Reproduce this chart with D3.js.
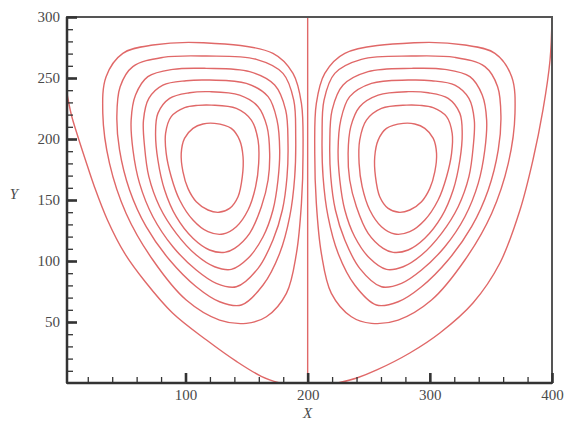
<!DOCTYPE html>
<html>
<head>
<meta charset="utf-8">
<script src="https://cdn.jsdelivr.net/npm/d3@7/dist/d3.min.js"></script>
<style>
  body { margin: 0; background: #fff; }
  .tick text { font-family: "Liberation Serif", "Times New Roman", serif; font-size: 15px; fill: #4a4a4a; }
</style>
</head>
<body>
<script>
// tick labels
const xMajor = [100, 200, 300, 400];
const yMajor = [50, 100, 150, 200, 250, 300];
const xMinor = d3.range(20, 400, 20);
const yMinor = d3.range(10, 300, 10);

// closed streamlines, left vortex (inner -> outer)
const leftLoops = [
  [[123.8,212.8],[137.5,208.7],[144.3,199.1],[147.1,185.5],[146.5,169.1],[143.0,152.7],[136.1,143.1],[127.4,139.9],[118.4,141.8],[108.8,148.6],[102.0,159.5],[97.9,173.2],[96.5,188.2],[99.2,200.5],[106.1,208.7],[114.3,212.3]],
  [[121.1,227.8],[141.6,225.1],[153.9,215.5],[159.4,199.1],[159.9,180.0],[157.4,160.9],[151.2,141.8],[141.6,128.1],[130.7,122.1],[118.4,124.0],[106.1,133.6],[95.2,150.0],[88.3,169.1],[84.2,188.2],[83.7,204.6],[88.3,218.3],[99.3,225.7],[110.2,227.6]],
  [[119.7,238.8],[144.3,236.0],[159.4,226.5],[166.7,210.1],[168.9,188.2],[167.6,166.4],[162.1,144.5],[152.5,122.7],[140.2,110.4],[132.0,107.1],[119.7,109.0],[106.1,118.6],[92.4,136.3],[82.9,158.2],[77.4,182.8],[75.5,204.6],[77.4,221.0],[87.0,233.3],[103.3,237.9]],
  [[119.7,248.3],[149.8,245.6],[167.6,234.7],[174.9,215.5],[177.1,191.0],[175.7,166.4],[171.6,141.8],[163.5,119.9],[151.2,102.2],[137.5,93.1],[123.8,95.3],[108.8,104.9],[92.4,122.7],[78.8,144.5],[70.0,169.1],[66.5,193.7],[65.6,215.5],[70.0,233.3],[81.5,244.2],[100.6,247.8]],
  [[117.0,257.9],[152.5,255.2],[173.0,244.2],[182.0,223.7],[183.9,196.4],[183.1,169.1],[179.3,141.8],[171.6,117.2],[159.4,94.0],[141.6,78.9],[125.2,81.7],[108.8,92.6],[89.7,111.7],[73.3,136.3],[62.4,163.6],[57.0,191.0],[55.5,215.5],[59.1,236.0],[69.2,251.1],[89.7,257.1]],
  [[117.0,268.0],[158.0,265.3],[179.8,253.8],[188.6,231.9],[190.2,201.9],[189.4,169.1],[185.3,136.3],[177.1,106.3],[163.5,80.3],[145.7,63.9],[127.9,66.6],[108.8,78.9],[87.0,100.8],[67.8,128.1],[54.2,158.2],[46.0,191.0],[43.8,218.3],[46.5,242.9],[56.9,259.3],[81.5,266.9]],
  [[114.3,278.9],[171.6,270.2],[188.0,253.8],[194.9,229.2],[196.2,188.2],[194.9,147.2],[190.8,106.3],[182.6,73.5],[166.2,54.3],[149.8,48.9],[127.9,51.6],[100.6,68.0],[73.3,100.8],[51.4,139.0],[37.8,180.0],[32.3,221.0],[35.0,251.1],[48.7,270.2],[73.3,277.0]]
];

// closed streamlines, right vortex (inner -> outer)
const rightLoops = [
  [[278.2,212.8],[264.5,208.7],[257.7,199.1],[254.9,185.5],[255.5,169.1],[259.0,152.7],[265.9,143.1],[274.6,139.9],[283.6,141.8],[293.2,148.6],[300.0,159.5],[304.1,173.2],[305.5,188.2],[302.8,200.5],[295.9,208.7],[287.7,212.3]],
  [[280.9,227.8],[260.4,225.1],[248.1,215.5],[242.6,199.1],[242.1,180.0],[244.6,160.9],[250.8,141.8],[260.4,128.1],[271.3,122.1],[283.6,124.0],[295.9,133.6],[306.8,150.0],[313.7,169.1],[317.8,188.2],[318.3,204.6],[313.7,218.3],[302.7,225.7],[291.8,227.6]],
  [[282.3,238.8],[257.7,236.0],[242.6,226.5],[235.3,210.1],[233.1,188.2],[234.4,166.4],[239.9,144.5],[249.5,122.7],[261.8,110.4],[270.0,107.1],[282.3,109.0],[295.9,118.6],[309.6,136.3],[319.1,158.2],[324.6,182.8],[326.5,204.6],[324.6,221.0],[315.0,233.3],[298.7,237.9]],
  [[282.3,248.3],[252.2,245.6],[234.4,234.7],[227.1,215.5],[224.9,191.0],[226.3,166.4],[230.4,141.8],[238.5,119.9],[250.8,102.2],[264.5,93.1],[278.2,95.3],[293.2,104.9],[309.6,122.7],[323.2,144.5],[332.0,169.1],[335.5,193.7],[336.4,215.5],[332.0,233.3],[320.5,244.2],[301.4,247.8]],
  [[285.0,257.9],[249.5,255.2],[229.0,244.2],[220.0,223.7],[218.1,196.4],[218.9,169.1],[222.7,141.8],[230.4,117.2],[242.6,94.0],[260.4,78.9],[276.8,81.7],[293.2,92.6],[312.3,111.7],[328.7,136.3],[339.6,163.6],[345.0,191.0],[346.5,215.5],[342.9,236.0],[332.8,251.1],[312.3,257.1]],
  [[285.0,268.0],[244.0,265.3],[222.2,253.8],[213.4,231.9],[211.8,201.9],[212.6,169.1],[216.7,136.3],[224.9,106.3],[238.5,80.3],[256.3,63.9],[274.1,66.6],[293.2,78.9],[315.0,100.8],[334.2,128.1],[347.8,158.2],[356.0,191.0],[358.2,218.3],[355.5,242.9],[345.1,259.3],[320.5,266.9]],
  [[287.7,278.9],[230.4,270.2],[214.0,253.8],[207.1,229.2],[205.8,188.2],[207.1,147.2],[211.2,106.3],[219.4,73.5],[235.8,54.3],[252.2,48.9],[274.1,51.6],[301.4,68.0],[328.7,100.8],[350.6,139.0],[364.2,180.0],[369.7,221.0],[367.0,251.1],[353.3,270.2],[328.7,277.0]]
];

// open outer streamlines
const leftEdge = [[2.5,240.0],[6.6,219.7],[11.5,203.3],[18.1,182.8],[25.5,160.7],[36.1,133.6],[50.0,106.6],[67.2,82.8],[89.4,57.4],[117.2,35.2],[142.0,17.5],[162.0,5.5],[177.1,0]];
const rightEdge = [[224.6,0],[240.2,4.1],[256.6,10.7],[283.6,24.6],[308.2,41.0],[335.3,65.6],[357.4,98.4],[373.8,141.8],[384.4,182.8],[392.6,223.8],[398.4,264.8],[400,300]];
const divider = [[200,0],[200,300]];

const w = 564, h = 423;
const pLeft = 67, pRight = 552, pTop = 17, pBottom = 383;

const x = d3.scaleLinear().domain([3, 400]).range([pLeft, pRight]);
const y = d3.scaleLinear().domain([0, 300]).range([pBottom, pTop]);

const svg = d3.select("body").append("svg")
  .attr("width", w)
  .attr("height", h);

svg.append("defs").append("clipPath").attr("id", "plot")
  .append("rect")
  .attr("x", pLeft).attr("y", pTop)
  .attr("width", pRight - pLeft).attr("height", pBottom - pTop);

const lineColor = "#e06868";
const g = svg.append("g").attr("clip-path", "url(#plot)");

const closed = d3.line().x(d => x(d[0])).y(d => y(d[1])).curve(d3.curveCatmullRomClosed.alpha(0.5));
const open = d3.line().x(d => x(d[0])).y(d => y(d[1])).curve(d3.curveCatmullRom.alpha(0.5));

g.selectAll("path.loop")
  .data(leftLoops.concat(rightLoops))
  .enter().append("path")
  .attr("class", "loop")
  .attr("d", closed)
  .attr("fill", "none")
  .attr("stroke", lineColor)
  .attr("stroke-width", 1.4);

g.selectAll("path.edge")
  .data([leftEdge, rightEdge, divider])
  .enter().append("path")
  .attr("class", "edge")
  .attr("d", open)
  .attr("fill", "none")
  .attr("stroke", lineColor)
  .attr("stroke-width", 1.4);

// frame
svg.append("rect")
  .attr("x", pLeft).attr("y", pTop)
  .attr("width", pRight - pLeft).attr("height", pBottom - pTop)
  .attr("fill", "none")
  .attr("stroke", "#555")
  .attr("stroke-width", 2);

// minor ticks (inside)
const xMinorAxis = d3.axisBottom(x).tickValues(xMinor).tickSize(-6).tickFormat("");
const yMinorAxis = d3.axisLeft(y).tickValues(yMinor).tickSize(-6).tickFormat("");
svg.append("g").attr("transform", "translate(0," + pBottom + ")").call(xMinorAxis);
svg.append("g").attr("transform", "translate(" + pLeft + ",0)").call(yMinorAxis);

// major ticks with labels
const xAxis = d3.axisBottom(x).tickValues(xMajor).tickSize(-10).tickPadding(6);
const yAxis = d3.axisLeft(y).tickValues(yMajor).tickSize(-10).tickPadding(7);
const gx = svg.append("g").attr("id", "x-axis").attr("transform", "translate(0," + pBottom + ")").call(xAxis);
const gy = svg.append("g").attr("id", "y-axis").attr("transform", "translate(" + pLeft + ",0)").call(yAxis);

svg.selectAll(".domain").remove();
svg.selectAll(".tick line").attr("stroke", "#333").attr("stroke-width", 1.3);
gx.selectAll(".tick line").attr("stroke-width", 2.6);
gy.selectAll(".tick line").attr("stroke-width", 2.6);

// left & bottom axis lines a bit heavier
svg.append("line").attr("x1", pLeft).attr("x2", pLeft).attr("y1", pTop).attr("y2", pBottom)
  .attr("stroke", "#333").attr("stroke-width", 2.5);
svg.append("line").attr("x1", pLeft).attr("x2", pRight).attr("y1", pBottom).attr("y2", pBottom)
  .attr("stroke", "#333").attr("stroke-width", 2.5);

// axis titles
svg.append("text")
  .attr("x", x(200)).attr("y", 418)
  .attr("text-anchor", "middle")
  .style("font-family", "'Liberation Serif', serif")
  .style("font-style", "italic")
  .style("font-size", "15px")
  .attr("fill", "#4a4a4a")
  .text("X");

svg.append("text")
  .attr("x", 14).attr("y", 199)
  .attr("text-anchor", "middle")
  .style("font-family", "'Liberation Serif', serif")
  .style("font-style", "italic")
  .style("font-size", "15px")
  .attr("fill", "#4a4a4a")
  .text("Y");
</script>
</body>
</html>
